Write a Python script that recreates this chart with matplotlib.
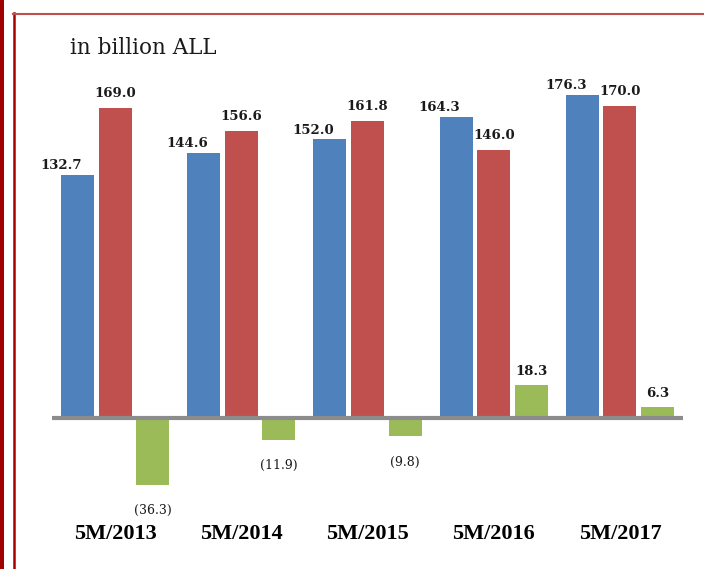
import numpy as np
import matplotlib.pyplot as plt
from matplotlib.patches import Rectangle
from matplotlib.lines import Line2D

# Data (billion ALL)
periods = ['5M/2013', '5M/2014', '5M/2015', '5M/2016', '5M/2017']
revenues = [132.7, 144.6, 152.0, 164.3, 176.3]
expenditures = [169.0, 156.6, 161.8, 146.0, 170.0]
balance = [-36.3, -11.9, -9.8, 18.3, 6.3]

W, H = 704, 569
fig = plt.figure(figsize=(W / 100, H / 100), dpi=100)
ax = fig.add_axes([52 / W, 69 / H, 631 / W, 440 / H])

x = np.arange(len(periods))
w = 0.262
off = 0.298

ax.bar(x - off, revenues, w, color='#4F81BD')
ax.bar(x, expenditures, w, color='#C0504D')
ax.bar(x + off, balance, w, color='#9BBB59')

ax.set_xlim(-0.5, 4.5)
ax.set_ylim(-44.7, 195.3)
ax.axhline(0, color='#8C8C8C', lw=3, zorder=3)

for s in ax.spines.values():
    s.set_visible(False)
ax.set_yticks([])
ax.set_xticks(x, periods)
ax.tick_params(axis='x', length=0, pad=17)
for lbl in ax.get_xticklabels():
    lbl.set_fontfamily('Liberation Serif')
    lbl.set_fontweight('bold')
    lbl.set_fontsize(16)

lab_font = dict(family='DejaVu Serif', fontsize=9.5, fontweight='bold', color='#1a1a1a')

# value labels
for i in range(len(periods)):
    ax.annotate(f'{revenues[i]:.1f}', (x[i] - off - 0.13, revenues[i]),
                xytext=(0, 2), textcoords='offset points',
                ha='center', va='bottom', **lab_font)
    ax.annotate(f'{expenditures[i]:.1f}', (x[i], expenditures[i]),
                xytext=(0, 6), textcoords='offset points',
                ha='center', va='bottom', **lab_font)
    b = balance[i]
    if b >= 0:
        ax.annotate(f'{b:.1f}', (x[i] + off, b), xytext=(0, 5),
                    textcoords='offset points', ha='center', va='bottom', **lab_font)
    else:
        ax.annotate(f'({abs(b):.1f})', (x[i] + off, b), xytext=(0, -14),
                    textcoords='offset points', ha='center', va='top',
                    family='DejaVu Serif', fontsize=9, color='#1a1a1a')

fig.text(70 / W, 1 - 48 / H, 'in billion ALL', family='DejaVu Serif',
         fontsize=15.5, va='center', ha='left', color='#1a1a1a')

# frame around the slide
fig.add_artist(Rectangle((0, 0), 4 / W, 1, transform=fig.transFigure,
                         color='#A00000', lw=0))
fig.add_artist(Line2D([14 / W, 14 / W], [0, 1 - 13 / H], transform=fig.transFigure,
                      color='#A80000', lw=1.8))
fig.add_artist(Line2D([13 / W, 1], [1 - 13.5 / H, 1 - 13.5 / H], transform=fig.transFigure,
                      color='#C0504D', lw=1.5))

fig.savefig('out.png', dpi=100)
